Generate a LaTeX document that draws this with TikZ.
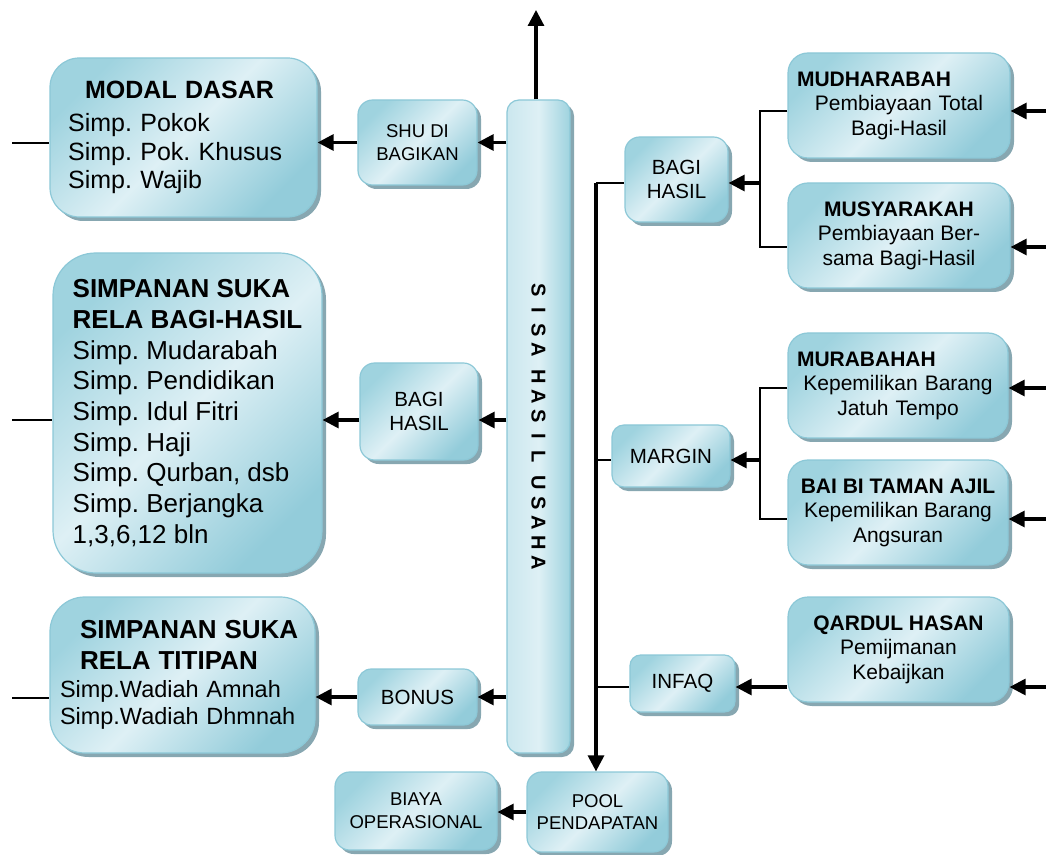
\documentclass[tikz,border=0pt]{standalone}
\usepackage{fontspec}
\setmainfont{Liberation Sans}
\usetikzlibrary{shadows,arrows.meta}
\frenchspacing

\definecolor{cyandark}{HTML}{9FD3DF}
\definecolor{cyandeep}{HTML}{93CCDA}
\definecolor{cyanlight}{HTML}{DEF0F5}
\definecolor{cyanedge}{HTML}{8CC8D7}
\definecolor{cyanshadow}{HTML}{7A9DA8}

% one fixed-width slot per letter of the vertical title
\newcommand\sisaletter[1]{\makebox[15pt]{#1}}

\tikzset{
  px/.style 2 args={minimum width=#1*0.75pt, minimum height=#2*0.75pt},
  cbox/.style={draw=cyanedge, line width=0.9pt,
    left color=cyandark, right color=cyandeep, middle color=cyanlight,
    shading angle=45,
    drop shadow={shadow xshift=3pt, shadow yshift=-3pt, fill=cyanshadow, opacity=0.9},
    inner sep=0pt, text=black},
  tallbox/.style={draw=cyanedge, line width=0.9pt,
    left color=cyanlight!70!cyandark, right color=cyandark, middle color=cyanlight,
    drop shadow={shadow xshift=3pt, shadow yshift=-3pt, fill=cyanshadow, opacity=0.9},
    inner sep=0pt},
  smalltxt/.style={align=center, font=\fontsize{15.4pt}{17.5pt}\selectfont},
  tinytxt/.style={align=center, font=\fontsize{13.9pt}{17pt}\selectfont},
  righttxt/.style={align=center, font=\fontsize{15.75pt}{18.4pt}\selectfont},
  sisatxt/.style={font=\fontsize{15pt}{16pt}\selectfont\bfseries},
  ln/.style={line width=1.4pt},
  arr/.style={line width=2.3pt, -{Triangle[length=12pt,width=12pt]}},
}

\begin{document}
\begin{tikzpicture}[x=0.75pt,y=-0.75pt]
\useasboundingbox (0,0) rectangle (1046,855);

% ---- left column: members' savings ----
\node[cbox, rounded corners=22pt, px={267}{159}, align=left, text width=173pt,
      font=\fontsize{18.75pt}{21.5pt}\selectfont] (modal) at (183.5,137.5)
  {\hspace*{12.75pt}\textbf{MODAL DASAR}\\[3.25pt]Simp. Pokok\\Simp. Pok. Khusus\\Simp. Wajib};

\node[cbox, rounded corners=32pt, px={269}{320}, align=left,
      font=\fontsize{19.5pt}{23pt}\selectfont] (simbh) at (187.5,413)
  {\textbf{SIMPANAN SUKA}\\\textbf{RELA BAGI-HASIL}\\Simp. Mudarabah\\Simp. Pendidikan\\Simp. Idul Fitri\\Simp. Haji\\Simp. Qurban, dsb\\Simp. Berjangka\\1,3,6,12 bln};

\node[cbox, rounded corners=26pt, px={265}{156}, align=left, text width=183.75pt,
      font=\fontsize{17.6pt}{20.25pt}\selectfont] (titipan) at (182.5,675)
  {\hspace*{15pt}{\fontsize{19.5pt}{23pt}\selectfont\bfseries SIMPANAN SUKA}\\[3pt]%
   \hspace*{15pt}{\fontsize{19.5pt}{23pt}\selectfont\bfseries RELA TITIPAN}\\[0.75pt]%
   Simp.Wadiah Amnah\\Simp.Wadiah Dhmnah};

% ---- distribution boxes ----
\node[cbox, rounded corners=11pt, px={119}{85}, tinytxt] (shu) at (417.5,142.5) {SHU DI\\BAGIKAN};
\node[cbox, rounded corners=11pt, px={118}{97}, smalltxt] (bhl) at (419,411.5) {BAGI\\HASIL};
\node[cbox, rounded corners=10pt, px={119}{56}, smalltxt] (bonus) at (417.5,697) {BONUS};

% ---- central column ----
\node[tallbox, rounded corners=9pt, px={63}{653}, sisatxt] (sisa) at (538.5,426.5)
  {\rotatebox{-90}{%
   \sisaletter{S}\sisaletter{I}\sisaletter{S}\sisaletter{A}\hspace{5pt}%
   \sisaletter{H}\sisaletter{A}\sisaletter{S}\sisaletter{I}\sisaletter{L}\hspace{5pt}%
   \sisaletter{U}\sisaletter{S}\sisaletter{A}\sisaletter{H}\sisaletter{A}}};

% ---- bottom row ----
\node[cbox, rounded corners=11pt, px={162}{78}, tinytxt] (biaya) at (416,811) {BIAYA\\OPERASIONAL};
\node[cbox, rounded corners=11pt, px={141}{80}, tinytxt] (pool) at (597.5,812) {POOL\\PENDAPATAN};

% ---- income types ----
\node[cbox, rounded corners=11pt, px={103}{85}, smalltxt] (bhr) at (676.5,179.5) {BAGI\\HASIL};
\node[cbox, rounded corners=9pt, px={118}{62}, smalltxt] (margin) at (671,456) {MARGIN};
\node[cbox, rounded corners=8pt, px={105}{57}, smalltxt] (infaq) at (682.5,683.5) {INFAQ};

% ---- financing products ----
\node[cbox, rounded corners=15pt, px={222}{105}, righttxt, text width=153pt] (mudh) at (899,105.5)
  {\makebox[\linewidth][l]{\textbf{MUDHARABAH}}\\Pembiayaan Total\\Bagi-Hasil};
\node[cbox, rounded corners=15pt, px={222}{105}, righttxt] (musy) at (899,235.5)
  {\textbf{MUSYARAKAH}\\Pembiayaan Ber-\\sama Bagi-Hasil};
\node[cbox, rounded corners=15pt, px={220}{105}, righttxt, text width=151.5pt] (murab) at (898,385.5)
  {\makebox[\linewidth][l]{\textbf{MURABAHAH}}\\Kepemilikan Barang\\Jatuh Tempo};
\node[cbox, rounded corners=15pt, px={220}{105}, righttxt] (bai) at (898,512.5)
  {\textbf{BAI BI TAMAN AJIL}\\Kepemilikan Barang\\Angsuran};
\node[cbox, rounded corners=15pt, px={221}{105}, righttxt] (qard) at (898.5,649.5)
  {\textbf{QARDUL HASAN}\\Pemijmanan\\Kebaijkan};

% ---- helper coordinates ----
\coordinate (top) at (536,10);
\coordinate (stubx) at (12,0);
\coordinate (rowbh) at (0,420);
\coordinate (bustop) at (596,183);
\coordinate (bx) at (760,0);
\coordinate (rx) at (1046,0);
\coordinate (r1) at (0,111);
\coordinate (r2) at (0,247);
\coordinate (r3) at (0,388);
\coordinate (r4) at (0,519);
\coordinate (r5) at (0,687);
\coordinate (r6) at (0,460);

% ---- left side connectors ----
\draw[arr] (top |- sisa.north) -- (top);
\draw[ln] (stubx |- 0,143) -- (modal.west |- 0,143);
\draw[ln] (stubx |- rowbh) -- (simbh.west |- rowbh);
\draw[ln] (stubx |- 0,698) -- (titipan.west |- 0,698);
\draw[arr] (sisa.west |- shu) -- (shu.east);
\draw[arr] (shu.west) -- (shu.west -| modal.east);
\draw[arr] (sisa.west |- rowbh) -- (bhl.east |- rowbh);
\draw[arr] (bhl.west |- rowbh) -- (simbh.east |- rowbh);
\draw[arr] (sisa.west |- bonus) -- (bonus.east);
\draw[arr] (bonus.west) -- (bonus.west -| titipan.east);
\draw[arr] (pool.west) -- (pool.west -| biaya.east);

% ---- income bus ----
\draw[arr] (bustop) -- (bustop |- pool.north);
\draw[ln] (bustop) -- (bustop -| bhr.west);
\draw[ln] (bustop |- r6) -- (margin.west |- r6);
\draw[ln] (bustop |- r5) -- (infaq.west |- r5);

% ---- brackets from products ----
\draw[ln] (mudh.west |- r1) -| (bx |- r2) -- (musy.west |- r2);
\draw[arr] (bx |- bustop) -- (bhr.east |- bustop);
\draw[ln] (murab.west |- r3) -| (bx |- r4) -- (bai.west |- r4);
\draw[arr] (bx |- r6) -- (margin.east |- r6);
\draw[arr] (qard.west |- r5) -- (infaq.east |- r5);

% ---- inflows from the right edge ----
\draw[arr] (rx |- r1) -- (mudh.east |- r1);
\draw[arr] (rx |- r2) -- (musy.east |- r2);
\draw[arr] (rx |- r3) -- (murab.east |- r3);
\draw[arr] (rx |- r4) -- (bai.east |- r4);
\draw[arr] (rx |- r5) -- (qard.east |- r5);
\end{tikzpicture}
\end{document}
